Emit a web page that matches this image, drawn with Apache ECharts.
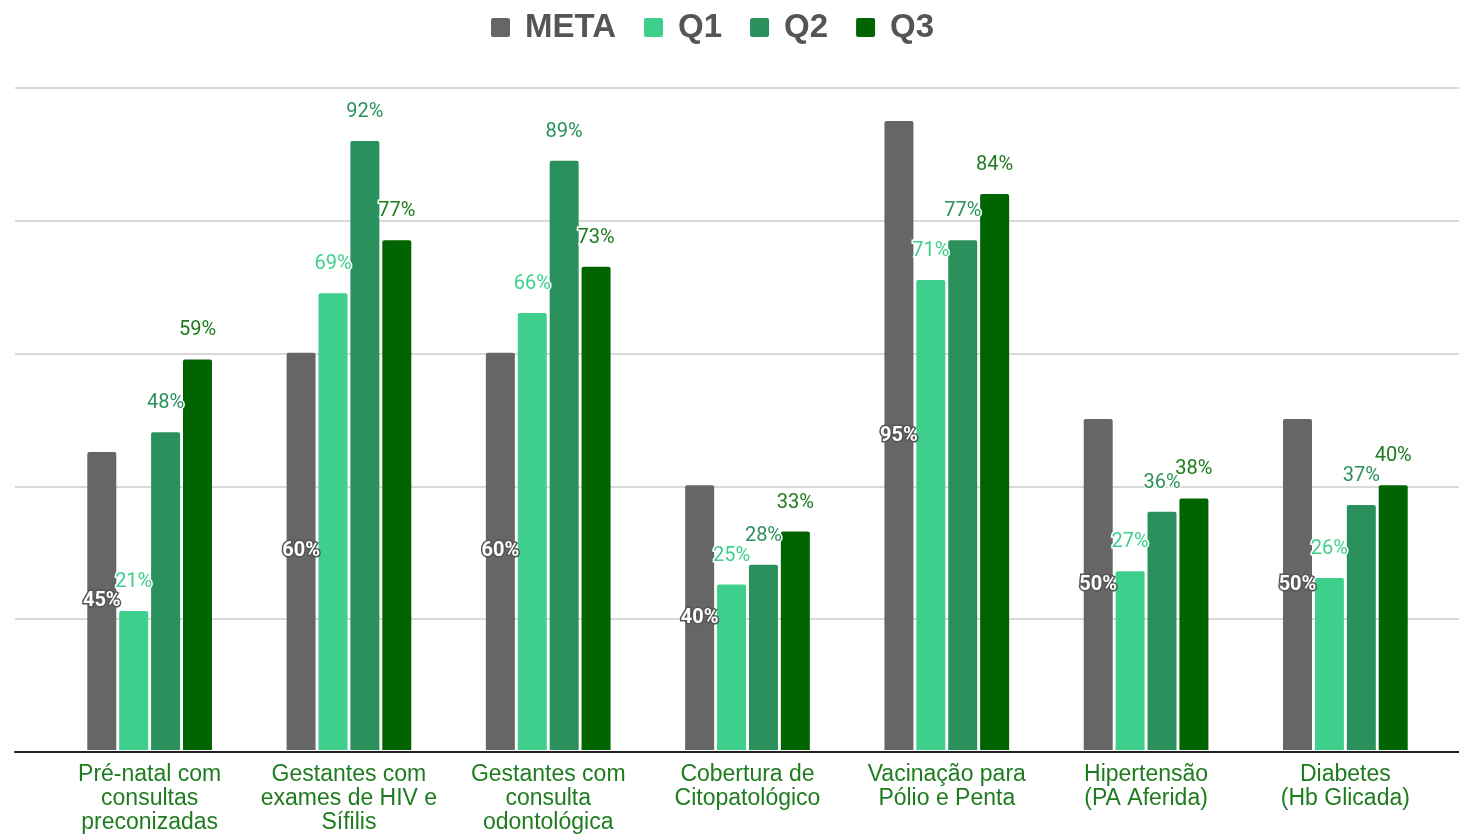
<!DOCTYPE html>
<html><head><meta charset="utf-8">
<script src="https://cdn.jsdelivr.net/npm/echarts@6/dist/echarts.min.js"></script>
<style>html,body{margin:0;padding:0;background:#fff}#c{width:1459px;height:835px}</style>
</head><body><div id="c"></div>
<script>
const categories = ["Pré-natal com\nconsultas\npreconizadas","Gestantes com\nexames de HIV e\nSífilis","Gestantes com\nconsulta\nodontológica","Cobertura de\nCitopatológico","Vacinação para\nPólio e Penta","Hipertensão\n(PA Aferida)","Diabetes\n(Hb Glicada)"];
const meta = [45, 60, 60, 40, 95, 50, 50];
const q1 = [21, 69, 66, 25, 71, 27, 26];
const q2 = [48, 92, 89, 28, 77, 36, 37];
const q3 = [59, 77, 73, 33, 84, 38, 40];
const seriesNames = ["META","Q1","Q2","Q3"];
const colors = ["#666666","#3ecf8c","#2a915c","#006400"];
const labelColors = ["#ffffff","#3ecf8c","#2a915c","#1e7b1e"];

const chart = echarts.init(document.getElementById('c'), null, {renderer:'canvas'});
const datas = [meta,q1,q2,q3];
const series = datas.map((d,i)=>({
  name: seriesNames[i], type:'bar', xAxisIndex:1, yAxisIndex:1,
  data:d, barWidth:29, barGap:'10%',
  itemStyle:{color:colors[i], borderRadius:[2,2,0,0]},
  label: i===0 ? {show:true, position:'inside', formatter:'{c}%', color:'#fff', fontFamily:'Roboto', fontWeight:'bold', fontSize:20, textBorderColor:'#555', textBorderWidth:3}
               : {show:true, position:'top', distance:19, formatter:'{c}%', color:labelColors[i], fontFamily:'Roboto', fontSize:20, textBorderColor:'#fff', textBorderWidth:3}
}));
chart.setOption({
  animation:false,
  color:colors,
  legend:{top:6, left:486, itemWidth:19, itemHeight:19, itemGap:28,
    icon:'path://M2,0H16A2,2 0 0 1 18,2V16A2,2 0 0 1 16,18H2A2,2 0 0 1 0,16V2A2,2 0 0 1 2,0Z',
    textStyle:{fontSize:33, fontWeight:'bold', color:'#555', fontFamily:'Liberation Sans, Arial', padding:[0,0,0,10]},
    data:seriesNames},
  grid:[{left:15,right:0,top:88,bottom:83,containLabel:false},{left:50,right:14,top:88,bottom:83,containLabel:false}],
  xAxis:[
    {gridIndex:0, type:'category', data:[''], axisLine:{show:true, lineStyle:{color:'#222', width:2}}, axisTick:{show:false}, axisLabel:{show:false}},
    {gridIndex:1, type:'category', data:categories, axisLine:{show:false}, axisTick:{show:false},
      axisLabel:{margin:13, fontSize:23, lineHeight:24, color:'#1e7b1e', fontFamily:'Liberation Sans, Arial', interval:0}}
  ],
  yAxis:[
    {gridIndex:0, type:'value', min:0, max:100, interval:20, axisLabel:{show:false}, axisLine:{show:false}, axisTick:{show:false}, splitLine:{lineStyle:{color:'#cccccc', width:1.5}}},
    {gridIndex:1, type:'value', min:0, max:100, interval:20, show:false, splitLine:{show:false}}
  ],
  series:series
});
</script></body></html>
